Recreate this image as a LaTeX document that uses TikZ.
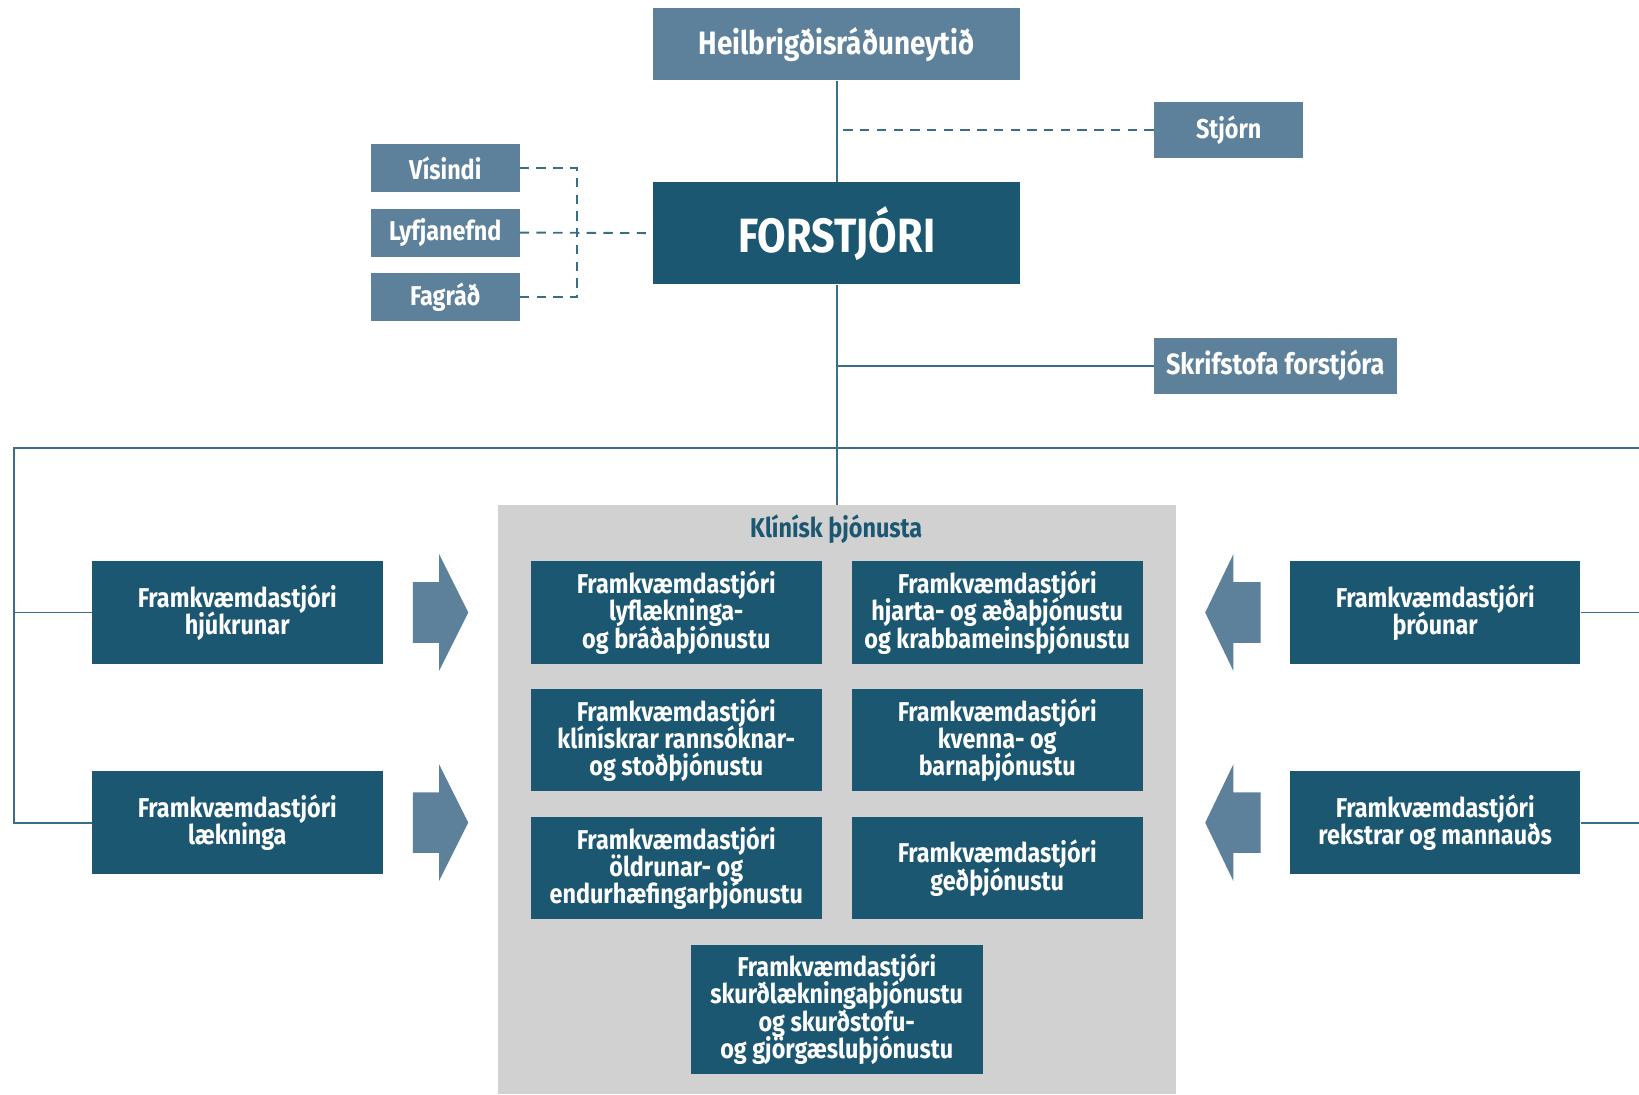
\documentclass[tikz,border=0pt]{standalone}
\usepackage{fontspec}
\setmainfont{Fira Sans}[FakeStretch=0.86]
\definecolor{unitblue}{RGB}{28,87,114}
\definecolor{slateblue}{RGB}{93,129,155}
\definecolor{areagray}{RGB}{209,209,209}
\definecolor{linkblue}{RGB}{58,110,135}
\newcommand\unitfont{\bfseries\fontsize{26}{26}\selectfont\lineskiplimit=-20pt\relax}

\begin{document}
\begin{tikzpicture}[x=1pt,y=-1pt,
  unitbox/.style={fill=unitblue,text=white,font=\unitfont,
    align=center,inner sep=0pt,minimum width=278pt,minimum height=98pt},
  councilbox/.style={fill=slateblue,text=white,font=\bfseries\fontsize{26}{26}\selectfont,
    align=center,inner sep=0pt},
  link/.style={draw=linkblue,line width=1.8pt},
  dashlink/.style={link,dash pattern=on 9pt off 7pt},
  bigarrow/.style={fill=slateblue}]
\useasboundingbox (0,0) rectangle (1568,1047);

% Clinical area
\node (klin) at (800.5,765) [fill=areagray,minimum width=649pt,minimum height=564pt,inner sep=0pt] {};
\node (klintitle) at (800,506) [text=unitblue,font=\bfseries\fontsize{26}{26}\selectfont] {Klínísk þjónusta};

% Top level
\node (heil) at (800.5,42.5) [councilbox,minimum width=351pt,minimum height=69pt,font=\bfseries\fontsize{31}{31}\selectfont] {Heilbrigðisráðuneytið};
\node (forst) at (800.5,223) [unitbox,minimum width=351pt,font=\bfseries\fontsize{46}{50}\selectfont] {FORSTJÓRI};
\node (stjorn) at (1175.5,124.5) [councilbox,minimum width=143pt,minimum height=53pt] {Stjórn};
\node (skrif) at (1220,350) [councilbox,minimum width=232pt,minimum height=54pt,font=\bfseries\fontsize{28}{28}\selectfont] {Skrifstofa forstjóra};

% Councils
\node (vis) at (426,161) [councilbox,minimum width=142pt,minimum height=46pt] {Vísindi};
\node (lyf) at (426,222.5) [councilbox,minimum width=142pt,minimum height=46pt] {Lyfjanefnd};
\node (fag) at (426,284.5) [councilbox,minimum width=142pt,minimum height=46pt] {Fagráð};

% Executive directors
\node (hjuk) at (227,586) [unitbox] {Framkvæmdastjóri\\hjúkrunar};
\node (laek) at (227,787) [unitbox] {Framkvæmdastjóri\\lækninga};
\node (throun) at (1373,586) [unitbox] {Framkvæmdastjóri\\þróunar};
\node (rekstur) at (1373,787) [unitbox] {Framkvæmdastjóri\\rekstrar og mannauðs};

% Clinical units
\node (lyflaek) at (647,586) [unitbox] {Framkvæmdastjóri\\lyflækninga-\\og bráðaþjónustu};
\node (hjarta) at (954,586) [unitbox] {Framkvæmdastjóri\\hjarta- og æðaþjónustu\\og krabbameinsþjónustu};
\node (rannsokn) at (647,708) [unitbox] {Framkvæmdastjóri\\klínískrar rannsóknar-\\og stoðþjónustu};
\node (kvenna) at (954,708) [unitbox] {Framkvæmdastjóri\\kvenna- og\\barnaþjónustu};
\node (oldrun) at (647,830.5) [unitbox] {Framkvæmdastjóri\\öldrunar- og\\endurhæfingarþjónustu};
\node (ged) at (954,830.5) [unitbox] {Framkvæmdastjóri\\geðþjónustu};
\node (skurd) at (800.5,965.5) [unitbox,minimum width=279pt,minimum height=123pt] {Framkvæmdastjóri\\skurðlækningaþjónustu\\og skurðstofu-\\og gjörgæsluþjónustu};

% Bus coordinates
\coordinate (busL) at (13,429);
\coordinate (busR) at (1568,429);
\coordinate (brk) at (552,222.5);

% Solid lines
\draw [link] (heil.south) -- (forst.north);
\draw [link] (forst.south) -- (klin.north);
\draw [link] (skrif.west) -- (forst.south |- skrif.west);
\draw [link] (busR) -- (busL) |- (hjuk.west);
\draw [link] (busL) |- (laek.west);
\draw [link] (throun.east) -- (throun.east -| busR);
\draw [link] (rekstur.east) -- (rekstur.east -| busR);

% Dashed lines
\draw [dashlink] (stjorn.west) -- ([xshift=6pt]heil.south |- stjorn.west);
\draw [dashlink] (vis.east) -| (brk) |- (fag.east);
\draw [dashlink] (lyf.east) -- (forst.west);

% Arrows
\fill [bigarrow] (395,557) -- (420,557) -- (420,530) -- (448,586) -- (420,642) -- (420,615) -- (395,615) -- cycle;
\fill [bigarrow] (395,758) -- (420,758) -- (420,731) -- (448,787) -- (420,843) -- (420,816) -- (395,816) -- cycle;
\fill [bigarrow] (1206,557) -- (1180,557) -- (1180,530) -- (1153,586) -- (1180,642) -- (1180,615) -- (1206,615) -- cycle;
\fill [bigarrow] (1206,758) -- (1180,758) -- (1180,731) -- (1153,787) -- (1180,843) -- (1180,816) -- (1206,816) -- cycle;

\end{tikzpicture}
\end{document}
